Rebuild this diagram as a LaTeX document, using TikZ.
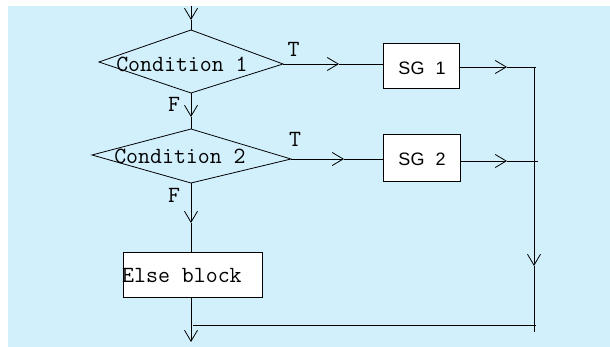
\documentclass[tikz,border=0pt]{standalone}
\usepackage{fontspec}
\usetikzlibrary{arrows.meta}
\newfontfamily\arialfont{Liberation Sans}
\definecolor{panelblue}{RGB}{210,240,252}
\begin{document}
\begin{tikzpicture}[x=1pt,y=-1pt,
  flow/.style={line width=0.8pt, draw=black},
  tip/.style={-{Straight Barb[length=11pt,width=13pt]}},
  box/.style={draw=black, fill=white, line width=0.8pt, inner sep=0pt},
  mono/.style={font=\ttfamily\fontsize{23.2}{28}\selectfont, inner sep=0pt, anchor=base},
  sans/.style={font=\arialfont\fontsize{18}{21}\selectfont, inner sep=0pt, anchor=base}]

% panel
\useasboundingbox (0,0) rectangle (610,347);
\fill[panelblue] (8,6) rectangle (610,347);

% decision diamonds
\coordinate (d1t) at (191,30);
\coordinate (d1l) at (99,62);
\coordinate (d1r) at (283,64);
\coordinate (d1b) at (191,93);
\draw[flow] (d1t) -- (d1r) -- (d1b) -- (d1l) -- cycle;
\node[mono] (c1) at (182,72) {Condition 1};

\coordinate (d2t) at (191,129);
\coordinate (d2l) at (92,155);
\coordinate (d2r) at (291,159);
\coordinate (d2b) at (191,183);
\draw[flow] (d2t) -- (d2r) -- (d2b) -- (d2l) -- cycle;
\node[mono] (c2) at (180,163.3) {Condition 2};

% statement blocks
\node[box, minimum width=76pt, minimum height=45pt] (sg1) at (421,65.5) {};
\node[sans] (sg1t) at (422,74.3) {SG\hspace{11pt}1};
\node[box, minimum width=77pt, minimum height=47pt] (sg2) at (421.5,157.5) {};
\node[sans] (sg2t) at (422,165.7) {SG\hspace{11pt}2};
\node[box, minimum width=139pt, minimum height=45pt] (else) at (192.5,274.5) {};
\node[mono, anchor=base west] (elset) at (122,283) {Else block};

% branch labels
\node[mono] (t1) at (293.5,57) {T};
\node[mono] (t2) at (295,146.7) {T};
\node[mono] (f1) at (174,111.7) {F};
\node[mono] (f2) at (174,203) {F};

% connector points
\coordinate (start) at (191,6);
\coordinate (a0) at (191,20);
\coordinate (a1) at (191,117);
\coordinate (a2) at (339,64);
\coordinate (j1) at (536,67);
\coordinate (a3) at (507,67);
\coordinate (a4) at (344,159);
\coordinate (j2) at (538,161);
\coordinate (a6) at (507,161);
\coordinate (rt) at (534,67);
\coordinate (a5) at (534,266);
\coordinate (rb) at (534,332);
\coordinate (a7) at (191,223);
\coordinate (jb) at (536,325);
\coordinate (mb) at (193,325);
\coordinate (finish) at (191,342);

% entry
\draw[flow,tip] (start) -- (a0);
\draw[flow] (a0) -- (d1t);
% first false branch
\draw[flow,tip] (d1b) -- (a1);
\draw[flow] (a1) -- (d2t);
% first true branch
\draw[flow,tip] (d1r) -- (a2);
\draw[flow] (a2) -- (d1r -| sg1.west);
\draw[flow,tip] (sg1.east |- j1) -- (a3);
\draw[flow] (a3) -- (j1);
% second true branch
\draw[flow,tip] (d2r) -- (a4);
\draw[flow] (a4) -- (d2r -| sg2.west);
\draw[flow,tip] (sg2.east |- j2) -- (a6);
\draw[flow] (a6) -- (j2);
% collecting line on the right
\draw[flow,tip] (rt) -- (a5);
\draw[flow] (a5) -- (rb);
\draw[flow] (jb) -- (mb);
% second false branch and exit
\draw[flow,tip] (d2b) -- (a7);
\draw[flow] (a7) -- (else.north -| d2b);
\draw[flow,tip] (else.south -| d2b) -- (finish);
\end{tikzpicture}
\end{document}
